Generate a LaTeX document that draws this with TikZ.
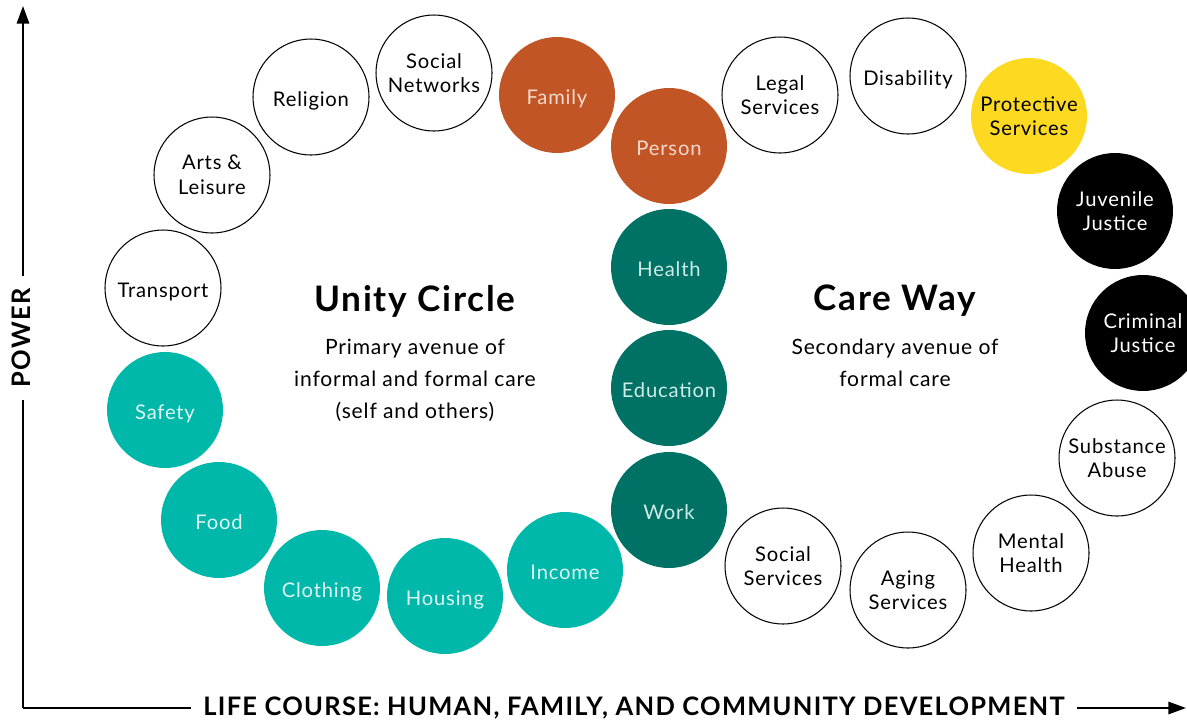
\documentclass[tikz,border=0pt]{standalone}
\usepackage{fontspec}
\setmainfont{Lato}[LetterSpace=4]
\newfontfamily\widelato{Lato}[LetterSpace=5]
\usetikzlibrary{arrows.meta, positioning}
\definecolor{rust}{RGB}{194,85,38}
\definecolor{seagreen}{RGB}{0,184,170}
\definecolor{pinegreen}{RGB}{0,113,101}
\definecolor{sunny}{RGB}{253,217,34}
\definecolor{peach}{RGB}{247,218,204}
\definecolor{mint}{RGB}{206,236,230}
\definecolor{foam}{RGB}{222,246,243}

\begin{document}
\begin{tikzpicture}[x=0.02cm, y=-0.02cm,
        bubble/.style={
            circle,
            minimum size=2.32cm,
            inner sep=0pt,
            align=center,
            font=\fontsize{11.5}{14}\selectfont
        },
        oneline/.style={
            text height=11pt, text depth=0pt % one line of text, set a bit lower
        },
        open/.style={
            bubble, draw=black, line width=0.6pt, fill=white, text=black
        },
        kin/.style={
            bubble, oneline, fill=rust, text=peach % Family and Person
        },
        basic/.style={
            bubble, oneline, fill=seagreen, text=foam
        },
        growth/.style={
            bubble, oneline, fill=pinegreen, text=mint
        },
        guard/.style={
            bubble, fill=sunny, text=black
        },
        justice/.style={
            bubble, fill=black, text=white
        },
        heading/.style={font=\widelato\fontsize{20}{24}\selectfont\bfseries},
        subline/.style={align=center, font=\fontsize{12}{18}\selectfont},
        axislabel/.style={inner xsep=7pt, font=\widelato\fontsize{14.5}{16}\selectfont\bfseries},
        axis/.style={line width=1.1pt, -{Triangle[length=10pt, width=7pt]}}
    ]
        \clip (0,0) rectangle (1187,721);

        % Unity Circle, outer ring
        \node[open, oneline] (transport) at (163,288) {Transport};
        \node[open] (arts) at (212,175) {Arts \&\\Leisure};
        \node[open, oneline] (religion) at (311,97) {Religion};
        \node[open] (networks) at (434,73) {Social\\Networks};

        % Family and Person
        \node[kin] (family) at (557,95) {Family};
        \node[kin] (person) at (669,146) {Person};

        % Health, Education, Work
        \node[growth] (health) at (669,267) {Health};
        \node[growth] (education) at (669,388) {Education};
        \node[growth] (work) at (669,510) {Work};

        % Basic needs
        \node[basic] (safety) at (165,410) {Safety};
        \node[basic] (food) at (219,520) {Food};
        \node[basic] (clothing) at (322,588) {Clothing};
        \node[basic] (housing) at (445,596) {Housing};
        \node[basic] (income) at (565,570) {Income};

        % Care Way
        \node[open] (legal) at (780,95) {Legal\\Services};
        \node[open, oneline] (disability) at (908,76) {Disability};
        \node[guard] (protective) at (1029,116) {Protective\\Services};
        \node[justice] (juvenile) at (1115,211) {Juvenile\\Justice};
        \node[justice] (criminal) at (1143,333) {Criminal\\Justice};
        \node[open] (substance) at (1117,458) {Substance\\Abuse};
        \node[open] (mental) at (1031,553) {Mental\\Health};
        \node[open] (aging) at (908,590) {Aging\\Services};
        \node[open] (socialsvc) at (783,566) {Social\\Services};

        % Centre texts
        \node[heading] (unity) at (415,301) {Unity Circle};
        \node[subline, below=0.2cm of unity] (unitytext) {Primary avenue of\\informal and formal care\\(self and others)};
        \node[heading] (careway) at (895,301) {Care Way};
        \node[subline, below=0.2cm of careway] (carewaytext) {Secondary avenue of\\formal care};

        % Axes
        \coordinate (origin) at (23,708);
        \coordinate (ytop) at (23,6);
        \coordinate (xend) at (1186,708);
        \node[axislabel] (xlabel) at (634,708) {LIFE COURSE: HUMAN, FAMILY, AND COMMUNITY DEVELOPMENT};
        \node[axislabel, rotate=90] (ylabel) at (21,338) {POWER};
        \draw[line width=1.1pt] (origin) -- (origin -| xlabel.west);
        \draw[axis] (xend -| xlabel.east) -- (xend);
        \draw[line width=1.1pt] (origin) -- (origin |- ylabel.west);
        \draw[axis] (ytop |- ylabel.east) -- (ytop);
    \end{tikzpicture}
\end{document}
